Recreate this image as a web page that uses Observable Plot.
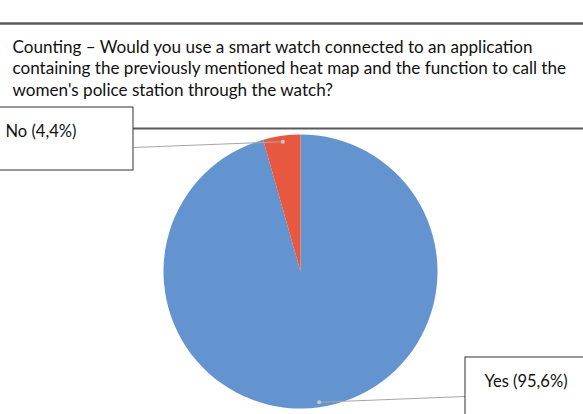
<!DOCTYPE html>
<html>
<head>
<meta charset="utf-8">
<script src="https://cdn.jsdelivr.net/npm/d3@7"></script>
<script src="https://cdn.jsdelivr.net/npm/@observablehq/plot@0.6"></script>
<style>
  html, body { margin: 0; padding: 0; background: #fff; }
  #chart svg { display: block; font-family: Lato, "Liberation Sans", sans-serif; }
</style>
</head>
<body>
<div id="chart"></div>
<script>
// ---- data ----
const categories = ["Yes", "No"];
const values = [95.6, 4.4];
const labels = ["Yes (95,6%)", "No (4,4%)"];
const colors = ["#6494CF", "#E8573F"];
const titleLines = [
  "Counting \u2013 Would you use a smart watch connected to an application",
  "containing the previously mentioned heat map and the function to call the",
  "women's police station through the watch?"
];

// ---- layout (pixel frame) ----
const W = 583, H = 414;
const center = {x: 300.5, y: 271.5}, radius = 137;
const boxes = [
  {x1: 465, y1: 357, x2: 590, y2: 420, tx: 484, ty: 381, ax: 465, ay: 396}, // Yes
  {x1: -2, y1: 107, x2: 133, y2: 170, tx: 5, ty: 131, ax: 133, ay: 147}     // No
];

const pie = d3.pie().sort(null).value(d => d.value);
const rows = categories.map((c, i) => ({category: c, value: values[i], label: labels[i], color: colors[i], box: boxes[i]}));
const arcs = pie(rows);
arcs.forEach(a => {
  const mid = (a.startAngle + a.endAngle) / 2;
  a.dotX = center.x + Math.sin(mid) * radius * 0.96;
  a.dotY = center.y - Math.cos(mid) * radius * 0.96;
});

function pieMark(index, scales) {
  const g = d3.create("svg:g");
  const cx = scales.x(center.x), cy = scales.y(center.y);
  const r = scales.x(center.x + radius) - cx;
  const arcGen = d3.arc().innerRadius(0).outerRadius(r);
  g.selectAll("path").data(arcs).join("path")
    .attr("transform", `translate(${cx},${cy})`)
    .attr("d", arcGen)
    .attr("fill", d => d.data.color);
  return g.node();
}

const chart = Plot.plot({
  width: W, height: H, margin: 0,
  x: {domain: [0, W], range: [0, W], axis: null},
  y: {domain: [0, H], range: [0, H], axis: null},
  marks: [
    Plot.ruleY([23], {x1: 0, x2: W, stroke: "#595959", strokeWidth: 2.5}),
    Plot.text(titleLines, {x: 12, y: (d, i) => 47 + i * 21.5, text: d => d, textAnchor: "start", fontSize: 17.1, fill: "#111"}),
    Plot.ruleY([128], {x1: 133, x2: W, stroke: "#595959", strokeWidth: 2}),
    pieMark,
    Plot.link(arcs, {x1: d => d.data.box.ax, y1: d => d.data.box.ay, x2: d => d.dotX, y2: d => d.dotY, stroke: "#a6a6a6", strokeWidth: 1.2}),
    Plot.dot(arcs, {x: d => d.dotX, y: d => d.dotY, r: 2, fill: "#c8c8c8"}),
    Plot.rect(rows, {x1: d => d.box.x1, x2: d => d.box.x2, y1: d => d.box.y1, y2: d => d.box.y2, fill: "#fff", stroke: "#333", strokeWidth: 1}),
    Plot.text(rows, {x: d => d.box.tx, y: d => d.box.ty, text: "label", textAnchor: "start", fontSize: 16.5, fill: "#111"})
  ]
});
document.getElementById("chart").appendChild(chart);
</script>
</body>
</html>
